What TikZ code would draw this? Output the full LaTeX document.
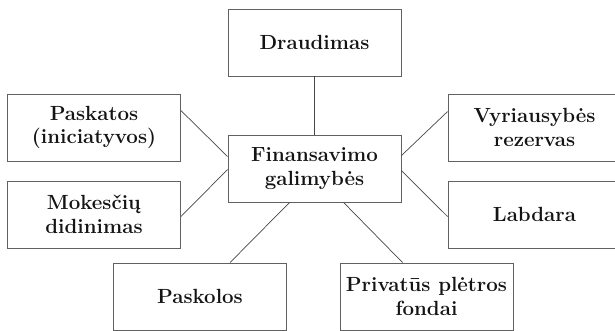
\documentclass[tikz,border=0pt]{standalone}
\usepackage{fontspec}
\begin{document}
\begin{tikzpicture}[x=1pt,y=-1pt,
  box/.style={draw=black!62, line width=0.9pt, rectangle,
    minimum width=173pt, minimum height=67pt, inner sep=0pt,
    align=center, text=black!92,
    font=\fontsize{20.5}{23.5}\selectfont\bfseries},
  link/.style={draw=black!72, line width=0.7pt}]
\useasboundingbox (0,0) rectangle (615,331);
\begin{scope}
\clip (0,0) rectangle (615,331);
% central node and surrounding sources
\node[box] (cen)   at (314.5,168.5) {Finansavimo\\galimybės};
\node[box] (drau)  at (314.5,42.5)  {Draudimas};
\node[box] (pask)  at (94,127.5)    {Paskatos\\(iniciatyvos)};
\node[box] (mok)   at (94,214.5)    {Mokesčių\\didinimas};
\node[box] (vyr)   at (534.5,127.5) {Vyriausybės\\rezervas};
\node[box] (lab)   at (534.5,214.5) {Labdara};
\node[box] (pasko) at (200,296.5)   {Paskolos};
\node[box] (priv)  at (426.5,296.5) {Privatūs plėtros\\fondai};
% connectors
\draw[link] (drau.south) -- (cen.north);
\draw[link] ([yshift=-17pt]pask.north east) -- ([yshift=-22pt]cen.north west);
\draw[link] ([yshift=-36pt]mok.north east) -- ([yshift=-35pt]cen.north west);
\draw[link] ([yshift=-21pt]cen.north east) -- ([yshift=-18pt]vyr.north west);
\draw[link] ([yshift=-36pt]cen.north east) -- ([yshift=-36pt]lab.north west);
\draw[link] ([xshift=62pt]cen.south west) -- ([xshift=117pt]pasko.north west);
\draw[link] ([xshift=116pt]cen.south west) -- ([xshift=63pt]priv.north west);
\end{scope}
\end{tikzpicture}
\end{document}
